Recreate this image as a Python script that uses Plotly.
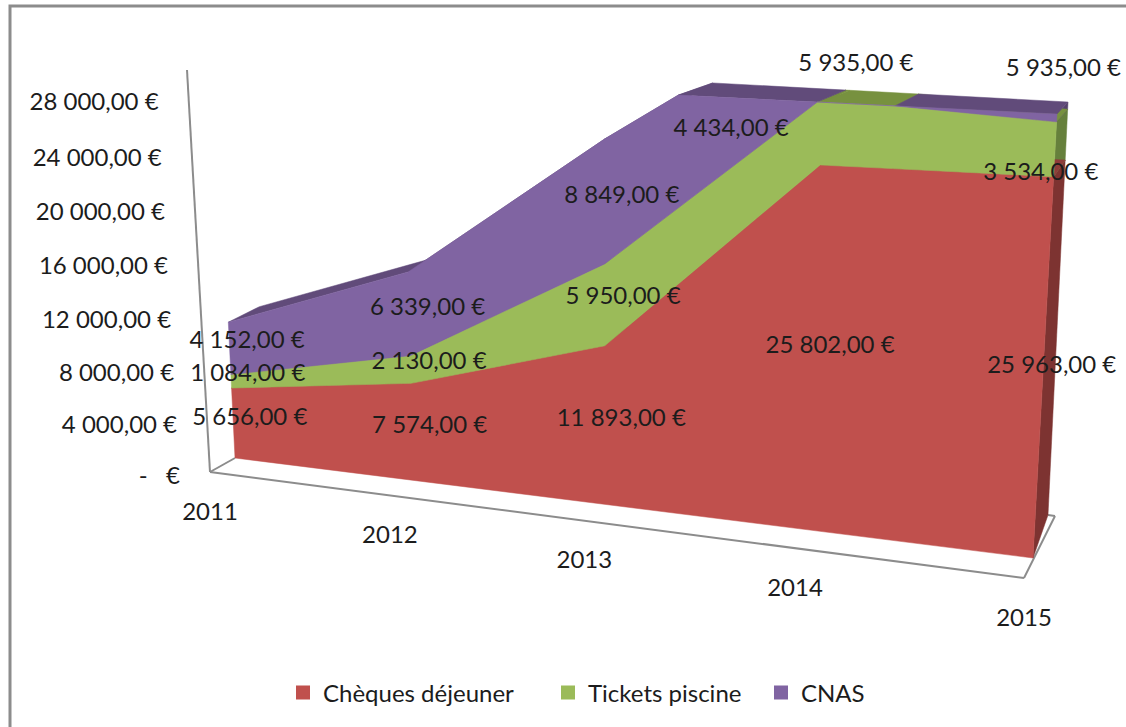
import numpy as np
import plotly.graph_objects as go

# ---------- data ----------
years = ["2011", "2012", "2013", "2014", "2015"]
cheques = [5656, 7574, 11893, 25802, 25963]
tickets = [1084, 2130, 5950, 4434, 3534]
cnas = [4152, 6339, 8849, 5935, 5935]
series_names = ["Chèques déjeuner", "Tickets piscine", "CNAS"]
tick_values = [0, 4000, 8000, 12000, 16000, 20000, 24000, 28000]
tick_labels = ["-   €", "4 000,00 €", "8 000,00 €", "12 000,00 €", "16 000,00 €",
               "20 000,00 €", "24 000,00 €", "28 000,00 €"]
value_labels = [
    ["5 656,00 €", "7 574,00 €", "11 893,00 €", "25 802,00 €", "25 963,00 €"],
    ["1 084,00 €", "2 130,00 €", "5 950,00 €", "4 434,00 €", "3 534,00 €"],
    ["4 152,00 €", "6 339,00 €", "8 849,00 €", "5 935,00 €", "5 935,00 €"],
]
axis_max = 30000

# ---------- style ----------
front_colors = ["#C0504D", "#9BBB59", "#8064A2"]
top_colors = ["#8F3C3A", "#77913F", "#614B7A"]
side_colors = ["#7D3331", "#66803C", "#54416B"]
FONT = "Lato"
FS = 24
TXT = "#1c1c1c"
GRID = "#8c8c8c"


# ---------- view: perspective planes of the 3-D chart box ----------
def homography(corners):
    src = [(0, 0), (4, 0), (0, axis_max), (4, axis_max)]
    A, b = [], []
    for (s, v), (X, Y) in zip(src, corners):
        A.append([s, v, 1, 0, 0, 0, -s * X, -v * X]); b.append(X)
        A.append([0, 0, 0, s, v, 1, -s * Y, -v * Y]); b.append(Y)
    A = np.array(A, float)
    scale = np.array([1, 1 / axis_max, 1, 1, 1 / axis_max, 1, 1, 1 / axis_max])
    p = np.linalg.solve(A * scale, np.array(b, float)) * scale
    return np.append(p, 1).reshape(3, 3)


H_FRONT = homography([(235, 458), (1033, 558), (216, 72), (1057, 114)])
H_BACK = homography([(266, 442), (1048, 515), (247, 58), (1068, 102)])
H_OUTER = homography([(210, 472), (1024, 578), (187, 70), (1045, 108)])


def apply(H, s, v):
    q = H @ np.array([s, v, 1.0])
    return q[0] / q[2], q[1] / q[2]


def proj(s, v, d=0.0):
    x0, y0 = apply(H_FRONT, s, v)
    x1, y1 = apply(H_BACK, s, v)
    return x0 + (x1 - x0) * d, y0 + (y1 - y0) * d


# ---------- stacking and clipping at the axis maximum ----------
pos = np.arange(len(years), dtype=float)
stack = [np.zeros(5)]
for s in (cheques, tickets, cnas):
    stack.append(stack[-1] + np.array(s, float))

grid = set(pos.tolist())
for b in stack:
    for i in range(4):
        if (b[i] - axis_max) * (b[i + 1] - axis_max) < 0:
            grid.add(i + (axis_max - b[i]) / (b[i + 1] - b[i]))
grid = np.array(sorted(grid))
bounds = [np.minimum(np.interp(grid, pos, b), axis_max) for b in stack]

fig = go.Figure()


def poly(points, color, line=None):
    xs = [p[0] for p in points] + [points[0][0]]
    ys = [p[1] for p in points] + [points[0][1]]
    fig.add_trace(go.Scatter(x=xs, y=ys, mode="lines", fill="toself", fillcolor=color,
                             line=dict(color=line or color, width=0.5),
                             hoverinfo="skip", showlegend=False))


def seg(a, b, w=2):
    fig.add_trace(go.Scatter(x=[a[0], b[0]], y=[a[1], b[1]], mode="lines",
                             line=dict(color=GRID, width=w), hoverinfo="skip", showlegend=False))


# chart frame lines
floor_right_back = (apply(H_BACK, 4, 0)[0] + 7, apply(H_BACK, 4, 0)[1] + 1)
seg(apply(H_OUTER, 0, 0), apply(H_OUTER, 0, axis_max))
seg(apply(H_OUTER, 0, 0), apply(H_OUTER, 4, 0))
seg(apply(H_OUTER, 0, 0), apply(H_FRONT, 0, 0))
seg(apply(H_OUTER, 4, 0), floor_right_back)
seg(apply(H_BACK, 4, 0), floor_right_back)

# right side faces
for k in range(3):
    lo, hi = bounds[k][-1], bounds[k + 1][-1]
    if hi > lo:
        poly([proj(4, lo), proj(4, hi), proj(4, hi, 1), proj(4, lo, 1)], side_colors[k])

# top faces
for k in range(3):
    for j in range(len(grid) - 1):
        s0, s1 = grid[j], grid[j + 1]
        thick = (bounds[k + 1][j] - bounds[k][j]) + (bounds[k + 1][j + 1] - bounds[k][j + 1])
        if thick <= 0:
            continue
        u0, u1 = bounds[k + 1][j], bounds[k + 1][j + 1]
        poly([proj(s0, u0), proj(s1, u1), proj(s1, u1, 1), proj(s0, u0, 1)], top_colors[k])

# front faces
for k in range(3):
    up = [proj(s, v) for s, v in zip(grid, bounds[k + 1])]
    lo = [proj(s, v) for s, v in zip(grid, bounds[k])]
    poly(up + lo[::-1], front_colors[k])

# data labels (middle of each band, halfway through the depth)
label_shift = {(0, 0): (1, 0), (0, 1): (-1, 1), (0, 2): (-2, 3), (0, 3): (0, 4), (0, 4): (2, 7),
               (1, 0): (1, -2), (1, 3): (-104, 1), (1, 4): (-20, 28),
               (2, 0): (2, -2), (2, 2): (-1, 0), (2, 3): (19, 12), (2, 4): (-1, -4)}
lx, ly, lt = [], [], []
for k in range(3):
    for i in range(5):
        mid = (stack[k][i] + stack[k + 1][i]) / 2
        x, y = proj(i, mid, 0.5)
        dx, dy = label_shift.get((k, i), (0, 0))
        lx.append(x + dx); ly.append(y + dy + 3.5); lt.append(value_labels[k][i])
fig.add_trace(go.Scatter(x=lx, y=ly, text=lt, mode="text", textposition="middle center",
                         textfont=dict(family=FONT, size=FS, color=TXT), hoverinfo="skip",
                         showlegend=False, cliponaxis=False))

# value axis labels along the slanted axis
tp = [apply(H_OUTER, 0, v) for v in tick_values]
fig.add_trace(go.Scatter(x=[p[0] - 30 for p in tp], y=[p[1] + 6 for p in tp], text=tick_labels,
                         mode="text", textposition="middle left",
                         textfont=dict(family=FONT, size=FS, color=TXT), hoverinfo="skip", showlegend=False))

# category labels along the floor edge
cp = [apply(H_OUTER, i, 0) for i in pos]
fig.add_trace(go.Scatter(x=[p[0] for p in cp], y=[p[1] + 41.5 for p in cp], text=years,
                         mode="text", textposition="middle center",
                         textfont=dict(family=FONT, size=FS, color=TXT), hoverinfo="skip", showlegend=False))

# legend entries, one positioned legend each
legend_ids = ["legend", "legend2", "legend3"]
legend_left = [283, 548, 761]
legends = {}
for name, c, lid, left in zip(series_names, front_colors, legend_ids, legend_left):
    fig.add_trace(go.Scatter(x=[None], y=[None], mode="markers", name=name, legend=lid, showlegend=True,
                             marker=dict(symbol="square", size=14, color=c)))
    legends[lid] = dict(orientation="h", x=left / 1126, xanchor="left", y=34 / 727, yanchor="middle",
                        font=dict(family=FONT, size=24, color=TXT), itemwidth=30,
                        bgcolor="rgba(0,0,0,0)")

fig.update_layout(
    width=1126, height=727, margin=dict(l=0, r=0, t=0, b=0), autosize=False,
    paper_bgcolor="white", plot_bgcolor="white",
    xaxis=dict(range=[0, 1126], visible=False, fixedrange=True),
    yaxis=dict(range=[727, 0], visible=False, fixedrange=True),
    shapes=[dict(type="rect", xref="x", yref="y", x0=10, y0=6, x1=1160, y1=760,
                 line=dict(color=GRID, width=3), layer="below")],
    **legends,
)
fig.write_html("out.html", config={"displayModeBar": False},
               post_script="document.body.style.margin='0';document.body.style.overflow='hidden';")
